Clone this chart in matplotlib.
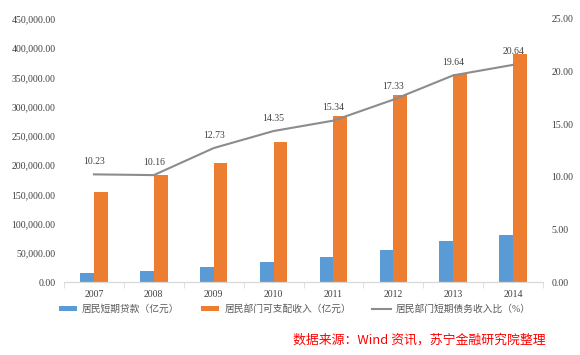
import numpy as np
import matplotlib.pyplot as plt

plt.rcParams['font.family'] = ['Liberation Serif', 'Noto Sans CJK SC', 'DejaVu Sans']

years = ['2007', '2008', '2009', '2010', '2011', '2012', '2013', '2014']
loans = [15800, 18700, 26000, 34300, 43500, 55400, 69800, 80500]
income = [154600, 183800, 204400, 238700, 283400, 319500, 355500, 389900]
ratio = [10.23, 10.16, 12.73, 14.35, 15.34, 17.33, 19.64, 20.64]

blue = '#5B9BD5'
orange = '#ED7D31'
txt = '#404040'

fig = plt.figure(figsize=(5.8, 3.55), dpi=100)
ax = fig.add_axes([0.1103, 0.2056, 0.826, 0.741])
ax2 = ax.twinx()

x = np.arange(len(years))
w = 0.23
b1 = ax.bar(x - w / 2, loans, w, color=blue, label='居民短期贷款（亿元）')
b2 = ax.bar(x + w / 2, income, w, color=orange, label='居民部门可支配收入（亿元）')
l1, = ax2.plot(x, ratio, color='#8C8C8C', lw=1.5, label='居民部门短期债务收入比（%）')
for xi, r in zip(x, ratio):
    ax2.text(xi, r + 0.8, '%.2f' % r, ha='center', va='bottom', fontsize=7, color=txt)

ax.set_xlim(-0.5, len(years) - 0.5)
ax.set_ylim(0, 450000)
ax2.set_ylim(0, 25)
ax.set_yticks(np.arange(0, 450001, 50000))
ax.set_yticklabels(['{:,.2f}'.format(v) for v in np.arange(0, 450001, 50000)])
ax2.set_yticks(np.arange(0, 26, 5))
ax2.set_yticklabels(['%.2f' % v for v in np.arange(0, 26, 5)])
ax.set_xticks(x)
ax.set_xticklabels(years)
ax.set_xticks(np.arange(-0.5, len(years), 1), minor=True)

for a in (ax, ax2):
    for s in ('top', 'left', 'right'):
        a.spines[s].set_visible(False)
    a.spines['bottom'].set_color('#D9D9D9')
    a.tick_params(axis='y', length=0, labelsize=7, labelcolor=txt, pad=6)
ax.tick_params(axis='x', which='major', length=0, labelsize=7, labelcolor=txt, pad=6)
ax.tick_params(axis='x', which='minor', length=4, color='#D9D9D9')

fig.legend([b1, b2, l1], [b1.get_label(), b2.get_label(), l1.get_label()],
           loc='center', bbox_to_anchor=(0.508, 0.13), ncol=3, frameon=False,
           fontsize=7, handlelength=1.9, handleheight=0.45, handletextpad=0.5,
           columnspacing=2.2, labelcolor='#595959')

fig.text(0.94, 0.042, '数据来源：Wind 资讯，苏宁金融研究院整理', color='#FF0000',
         fontsize=9.3, style='italic', ha='right', va='center',
         family=['Noto Sans CJK SC', 'DejaVu Sans'])

fig.savefig('out.png', dpi=100)
